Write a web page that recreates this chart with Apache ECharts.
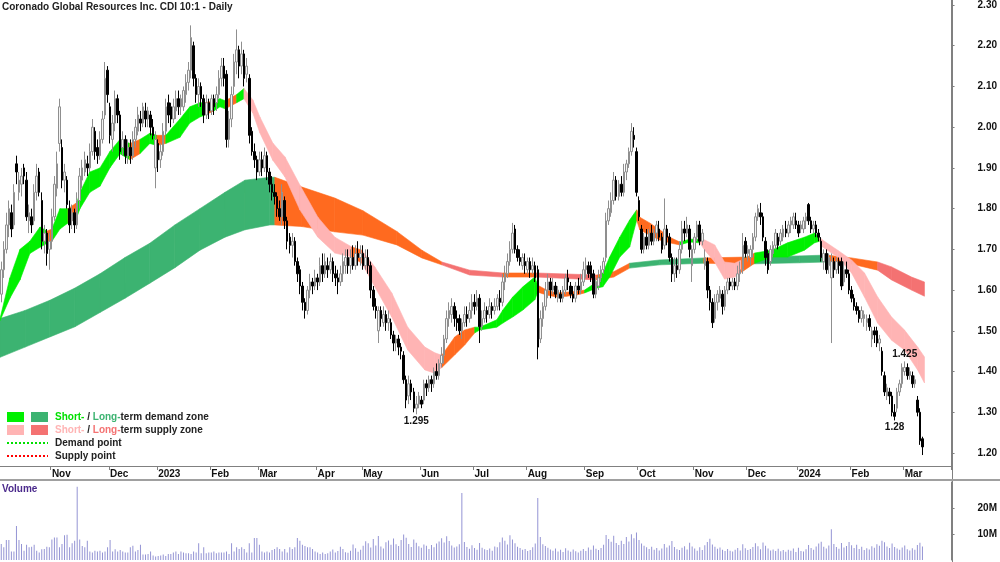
<!DOCTYPE html>
<html>
<head>
<meta charset="utf-8">
<script src="https://cdn.jsdelivr.net/npm/echarts@6/dist/echarts.min.js"></script>
<style>
  html, body { margin: 0; padding: 0; background: #fff; }
  #chart { width: 1000px; height: 562px; }
</style>
</head>
<body>
<div id="chart"></div>
<script>
// daily candles, [open, close, low, high]
const ohlc = [
  [1.59,1.65,1.57,1.67],[1.65,1.70,1.63,1.72],[1.70,1.76,1.69,1.79],[1.76,1.80,1.73,1.82],[1.79,1.75,1.73,1.81],
  [1.76,1.84,1.75,1.86],[1.91,1.89,1.86,1.93],[1.84,1.87,1.82,1.89],[1.86,1.88,1.83,1.90],[1.90,1.88,1.86,1.91],
  [1.87,1.78,1.77,1.89],[1.77,1.79,1.74,1.81],[1.78,1.76,1.74,1.80],[1.77,1.84,1.76,1.86],[1.84,1.88,1.82,1.91],
  [1.89,1.84,1.83,1.90],[1.82,1.72,1.70,1.84],[1.72,1.74,1.69,1.76],[1.74,1.69,1.66,1.75],[1.70,1.72,1.65,1.74],
  [1.72,1.78,1.70,1.80],[1.78,1.86,1.77,1.88],[1.85,1.91,1.83,1.94],[1.96,2.05,1.94,2.07],[1.95,1.87,1.85,1.97],
  [1.87,1.89,1.84,1.91],[1.87,1.81,1.80,1.88],[1.80,1.76,1.74,1.82],[1.77,1.79,1.75,1.81],[1.79,1.76,1.74,1.80],
  [1.76,1.82,1.75,1.84],[1.82,1.88,1.80,1.90],[1.87,1.90,1.85,1.92],[1.89,1.92,1.88,1.94],[1.91,1.90,1.88,1.93],
  [1.90,1.94,1.89,1.96],[1.94,2.00,1.93,2.02],[1.99,1.94,1.92,2.00],[1.95,1.93,1.91,1.97],[1.93,1.97,1.92,1.99],
  [1.97,2.02,1.96,2.04],[2.03,2.12,2.02,2.16],[2.14,2.08,2.06,2.15],[2.05,1.98,1.96,2.06],[1.97,2.01,1.94,2.03],
  [2.01,2.07,1.99,2.09],[2.07,2.03,2.01,2.08],[2.03,1.94,1.92,2.04],[1.95,1.97,1.93,1.99],[1.97,1.93,1.91,1.98],
  [1.93,1.95,1.91,1.97],[1.95,1.93,1.91,1.97],[1.93,1.97,1.92,1.99],[1.97,2.00,1.95,2.02],[1.99,2.03,1.98,2.05],
  [2.02,2.01,1.99,2.04],[2.01,2.05,2.00,2.06],[2.04,2.02,2.00,2.06],[2.02,2.04,2.00,2.05],[2.03,2.00,1.98,2.04],
  [2.00,1.98,1.97,2.02],[1.90,1.97,1.85,1.99],[1.96,1.92,1.89,1.97],[1.92,1.94,1.90,1.96],[1.94,1.99,1.93,2.01],
  [1.99,2.05,1.98,2.07],[2.06,2.03,2.01,2.08],[2.05,2.02,2.00,2.06],[2.02,2.05,2.01,2.07],[2.04,2.07,2.02,2.09],
  [2.07,2.05,2.03,2.09],[2.05,2.07,2.03,2.08],[2.05,2.09,2.04,2.10],[2.08,2.11,2.06,2.13],[2.11,2.14,2.09,2.16],
  [2.14,2.22,2.12,2.25],[2.20,2.12,2.10,2.21],[2.12,2.08,2.06,2.13],[2.08,2.10,2.05,2.12],[2.10,2.07,2.05,2.11],
  [2.07,2.03,2.01,2.08],[2.03,2.06,2.02,2.08],[2.06,2.04,2.02,2.07],[2.04,2.07,2.03,2.08],[2.07,2.05,2.03,2.08],
  [2.06,2.08,2.04,2.10],[2.08,2.12,2.07,2.14],[2.12,2.15,2.10,2.17],[2.15,2.12,2.10,2.17],[2.13,1.97,1.95,2.14],
  [1.97,2.02,1.95,2.04],[2.02,2.08,2.00,2.10],[2.10,2.16,2.08,2.18],[2.16,2.19,2.13,2.24],[2.19,2.15,2.12,2.20],
  [2.15,2.18,2.13,2.21],[2.18,2.12,2.10,2.19],[2.13,2.15,2.11,2.17],[2.12,1.98,1.96,2.13],[1.99,1.94,1.93,2.00],
  [1.94,1.92,1.90,1.96],[1.92,1.89,1.87,1.93],[1.89,1.92,1.88,1.94],[1.92,1.90,1.88,1.94],[1.90,1.93,1.89,1.95],
  [1.93,1.89,1.87,1.94],[1.89,1.86,1.84,1.90],[1.86,1.84,1.82,1.88],[1.84,1.83,1.81,1.86],[1.83,1.80,1.78,1.84],
  [1.80,1.78,1.77,1.82],[1.78,1.84,1.76,1.86],[1.82,1.77,1.75,1.83],[1.77,1.72,1.70,1.78],[1.73,1.71,1.69,1.74],
  [1.71,1.72,1.68,1.74],[1.72,1.67,1.66,1.73],[1.67,1.64,1.62,1.68],[1.65,1.61,1.59,1.66],[1.61,1.57,1.55,1.62],
  [1.57,1.55,1.53,1.58],[1.55,1.60,1.54,1.61],[1.60,1.62,1.58,1.64],[1.62,1.61,1.59,1.63],[1.61,1.63,1.60,1.65],
  [1.63,1.62,1.60,1.64],[1.62,1.66,1.61,1.68],[1.66,1.64,1.62,1.69],[1.64,1.67,1.63,1.69],[1.66,1.65,1.63,1.68],
  [1.65,1.67,1.64,1.69],[1.67,1.64,1.62,1.68],[1.64,1.63,1.61,1.66],[1.63,1.62,1.59,1.65],[1.62,1.64,1.61,1.66],
  [1.64,1.67,1.62,1.69],[1.66,1.68,1.64,1.70],[1.68,1.66,1.64,1.70],[1.66,1.68,1.64,1.70],[1.68,1.66,1.65,1.71],
  [1.66,1.69,1.65,1.71],[1.69,1.68,1.66,1.72],[1.68,1.69,1.66,1.71],[1.69,1.66,1.65,1.71],[1.66,1.68,1.65,1.70],
  [1.68,1.66,1.64,1.70],[1.66,1.60,1.58,1.67],[1.60,1.56,1.55,1.61],[1.56,1.55,1.53,1.58],[1.50,1.55,1.47,1.56],
  [1.55,1.53,1.51,1.56],[1.52,1.54,1.51,1.56],[1.54,1.52,1.50,1.55],[1.52,1.53,1.50,1.55],[1.52,1.49,1.48,1.53],
  [1.49,1.47,1.45,1.50],[1.47,1.48,1.45,1.49],[1.48,1.46,1.44,1.49],[1.46,1.45,1.43,1.47],[1.44,1.38,1.37,1.45],
  [1.38,1.33,1.31,1.39],[1.34,1.37,1.32,1.39],[1.37,1.35,1.33,1.38],[1.35,1.31,1.30,1.36],[1.31,1.32,1.295,1.34],
  [1.32,1.34,1.31,1.35],[1.33,1.32,1.31,1.34],[1.33,1.37,1.32,1.38],[1.37,1.36,1.34,1.38],[1.36,1.38,1.35,1.39],
  [1.38,1.37,1.35,1.39],[1.37,1.40,1.36,1.41],[1.40,1.39,1.38,1.42],[1.39,1.42,1.38,1.43],[1.42,1.44,1.41,1.46],
  [1.44,1.48,1.42,1.49],[1.48,1.53,1.47,1.55],[1.53,1.55,1.51,1.57],[1.54,1.56,1.52,1.58],[1.56,1.53,1.51,1.57],
  [1.53,1.52,1.50,1.55],[1.53,1.50,1.49,1.54],[1.50,1.52,1.48,1.53],[1.52,1.54,1.51,1.56],[1.54,1.53,1.51,1.56],
  [1.53,1.55,1.52,1.57],[1.55,1.57,1.53,1.59],[1.57,1.56,1.54,1.59],[1.56,1.58,1.55,1.60],[1.58,1.51,1.47,1.59],
  [1.51,1.53,1.50,1.55],[1.53,1.55,1.52,1.57],[1.55,1.54,1.52,1.56],[1.54,1.56,1.53,1.58],[1.56,1.55,1.53,1.57],
  [1.55,1.56,1.54,1.58],[1.56,1.58,1.55,1.59],[1.58,1.57,1.55,1.60],[1.57,1.62,1.56,1.64],[1.62,1.64,1.60,1.66],
  [1.64,1.67,1.63,1.69],[1.67,1.70,1.66,1.72],[1.70,1.74,1.69,1.765],[1.75,1.70,1.69,1.76],[1.70,1.68,1.67,1.71],
  [1.68,1.67,1.66,1.70],[1.66,1.68,1.65,1.69],[1.67,1.66,1.64,1.69],[1.65,1.67,1.64,1.68],[1.67,1.65,1.63,1.68],
  [1.65,1.66,1.64,1.68],[1.66,1.63,1.62,1.67],[1.65,1.46,1.43,1.66],[1.48,1.53,1.47,1.55],[1.53,1.56,1.51,1.57],
  [1.56,1.60,1.55,1.62],[1.60,1.62,1.58,1.64],[1.62,1.60,1.58,1.63],[1.60,1.61,1.59,1.63],[1.61,1.59,1.58,1.62],
  [1.58,1.60,1.57,1.61],[1.59,1.58,1.57,1.60],[1.58,1.60,1.57,1.61],[1.60,1.63,1.59,1.64],[1.63,1.62,1.60,1.65],
  [1.61,1.59,1.58,1.62],[1.59,1.58,1.57,1.61],[1.58,1.61,1.57,1.62],[1.61,1.60,1.59,1.63],[1.60,1.62,1.59,1.64],
  [1.62,1.65,1.61,1.67],[1.65,1.66,1.63,1.68],[1.66,1.64,1.63,1.67],[1.66,1.63,1.62,1.67],[1.64,1.59,1.58,1.65],
  [1.59,1.62,1.58,1.63],[1.61,1.63,1.60,1.65],[1.63,1.65,1.62,1.66],[1.65,1.67,1.64,1.68],[1.68,1.77,1.67,1.79],
  [1.77,1.80,1.76,1.82],[1.79,1.82,1.78,1.84],[1.82,1.87,1.81,1.89],[1.87,1.83,1.82,1.88],[1.83,1.86,1.82,1.87],
  [1.86,1.84,1.83,1.88],[1.84,1.89,1.83,1.91],[1.89,1.91,1.87,1.92],[1.91,1.94,1.90,1.95],[1.94,1.99,1.93,2.01],
  [1.98,1.97,1.95,2.00],[1.94,1.84,1.83,1.95],[1.82,1.78,1.77,1.83],[1.75,1.70,1.69,1.76],[1.70,1.73,1.69,1.74],
  [1.73,1.71,1.70,1.75],[1.71,1.74,1.70,1.75],[1.74,1.72,1.71,1.76],[1.72,1.74,1.71,1.75],[1.74,1.76,1.72,1.77],
  [1.75,1.73,1.72,1.77],[1.73,1.70,1.69,1.74],[1.71,1.75,1.70,1.825],[1.75,1.73,1.71,1.76],[1.73,1.68,1.67,1.74],
  [1.68,1.64,1.62,1.69],[1.64,1.66,1.62,1.68],[1.66,1.65,1.63,1.68],[1.65,1.70,1.64,1.72],[1.70,1.75,1.69,1.77],
  [1.75,1.74,1.72,1.77],[1.74,1.76,1.73,1.78],[1.75,1.70,1.68,1.76],[1.66,1.70,1.62,1.71],[1.70,1.73,1.69,1.74],
  [1.73,1.76,1.72,1.77],[1.76,1.72,1.71,1.77],[1.72,1.74,1.71,1.75],[1.66,1.68,1.65,1.70],[1.67,1.60,1.58,1.68],
  [1.60,1.57,1.55,1.61],[1.57,1.52,1.507,1.58],[1.53,1.57,1.52,1.59],[1.57,1.59,1.55,1.60],[1.58,1.60,1.57,1.61],
  [1.59,1.56,1.54,1.60],[1.56,1.60,1.55,1.61],[1.60,1.62,1.59,1.63],[1.62,1.61,1.60,1.63],[1.61,1.62,1.60,1.63],
  [1.62,1.61,1.60,1.63],[1.61,1.64,1.60,1.66],[1.64,1.65,1.62,1.67],[1.65,1.71,1.64,1.74],[1.72,1.69,1.68,1.73],
  [1.69,1.70,1.67,1.71],[1.68,1.70,1.66,1.71],[1.70,1.73,1.68,1.74],[1.73,1.78,1.72,1.79],[1.78,1.80,1.77,1.81],
  [1.79,1.78,1.76,1.814],[1.78,1.73,1.72,1.79],[1.72,1.68,1.66,1.73],[1.69,1.65,1.64,1.70],[1.67,1.70,1.66,1.71],
  [1.69,1.71,1.68,1.72],[1.71,1.74,1.70,1.75],[1.73,1.71,1.70,1.74],[1.72,1.74,1.71,1.75],[1.73,1.75,1.72,1.76],
  [1.75,1.74,1.73,1.77],[1.74,1.76,1.73,1.77],[1.76,1.77,1.74,1.78],[1.76,1.78,1.75,1.79],[1.77,1.76,1.75,1.79],
  [1.76,1.74,1.73,1.77],[1.75,1.76,1.74,1.77],[1.75,1.77,1.74,1.78],[1.77,1.78,1.75,1.79],[1.81,1.77,1.76,1.814],
  [1.77,1.75,1.74,1.78],[1.75,1.76,1.74,1.77],[1.76,1.74,1.73,1.77],[1.74,1.73,1.72,1.75],[1.72,1.68,1.67,1.73],
  [1.67,1.69,1.65,1.70],[1.69,1.65,1.64,1.70],[1.66,1.68,1.64,1.69],[1.63,1.67,1.47,1.69],[1.67,1.65,1.63,1.68],
  [1.65,1.67,1.64,1.68],[1.67,1.66,1.64,1.68],[1.67,1.61,1.60,1.68],[1.62,1.65,1.61,1.67],[1.65,1.64,1.63,1.67],
  [1.64,1.60,1.59,1.65],[1.60,1.58,1.57,1.61],[1.58,1.56,1.55,1.59],[1.56,1.55,1.54,1.57],[1.55,1.53,1.52,1.56],
  [1.53,1.55,1.52,1.56],[1.53,1.54,1.51,1.55],[1.52,1.53,1.50,1.54],[1.53,1.51,1.50,1.54],[1.48,1.50,1.46,1.51],
  [1.50,1.49,1.47,1.51],[1.50,1.47,1.46,1.51],[1.47,1.48,1.45,1.49],[1.45,1.40,1.39,1.46],[1.39,1.35,1.34,1.40],
  [1.34,1.36,1.33,1.37],[1.35,1.34,1.32,1.36],[1.34,1.30,1.29,1.35],[1.30,1.29,1.28,1.32],[1.31,1.35,1.30,1.36],
  [1.35,1.37,1.34,1.38],[1.37,1.41,1.36,1.42],[1.40,1.41,1.39,1.425],[1.41,1.39,1.38,1.42],[1.39,1.40,1.38,1.41],
  [1.39,1.37,1.36,1.40],[1.37,1.38,1.36,1.39],[1.33,1.30,1.29,1.34],[1.30,1.23,1.22,1.31],[1.235,1.215,1.195,1.24]
];

// daily volume, millions
const volumeM = [
  6.2,4.9,7.7,7.7,3.3,3.3,13.1,7.7,6.2,3.6, 5.9,4.9,5.1,5.9,3.6,2.9,4.1,4.2,5.1,4.9,
  7.9,8.7,8.7,4.9,6.2,9.5,9.7,4.9,6.4,7.4, 28.2,7.9,5.4,4.9,7.4,3.3,2.9,3.6,3.3,3.6,
  2.9,3.3,4.9,7.7,3.3,4.1,3.3,3.8,3.3,2.9, 2.9,4.9,5.5,3.3,3.8,5.9,2.1,2.1,2.3,3.3,
  1.7,1.3,1.5,1.7,2.1,1.5,2.3,2.3,2.9,3.3, 2.3,3.3,2.9,2.6,2.6,2.3,3.3,2.9,6.4,2.6,
  4.9,2.6,2.9,2.9,3.3,2.6,2.9,2.9,2.9,3.3, 2.3,6.4,3.3,4.9,4.2,4.9,4.2,2.9,6.4,2.9,
  8.5,8.5,5.9,3.3,2.9,3.3,2.9,3.8,4.2,4.9, 4.2,3.3,4.2,2.9,4.9,4.2,4.9,8.5,7.4,5.9,
  5.4,4.9,4.9,4.2,3.3,2.9,2.3,2.9,2.3,2.6,
  3.3,4.0,2.9,3.5,5.1,4.2,3.0,2.8,3.6,6.0, 4.5,3.2,3.9,5.5,7.2,6.4,4.8,8.1,5.6,9.2,
  5.2,4.4,6.8,7.5,5.9,8.3,6.1,5.4,7.7,9.8, 8.6,6.2,5.0,7.9,6.6,5.3,4.7,6.0,5.5,4.2,
  5.8,4.9,6.3,7.1,8.4,6.7,9.1,7.3,5.6,4.8, 5.2,6.1,25.8,6.9,5.0,4.3,5.7,4.6,3.9,6.5,
  4.7,4.1,3.8,4.4,3.6,5.2,4.9,6.8,8.7,7.4, 6.0,9.5,7.9,6.4,5.1,4.6,3.9,4.2,3.5,3.8,
  4.9,6.3,23.8,8.8,6.1,5.4,4.7,4.0,3.6,4.4, 3.3,3.9,3.1,4.5,3.7,3.2,4.0,3.4,2.9,3.6,
  4.2,3.5,4.8,3.9,5.6,4.3,3.8,4.6,5.9,9.6, 8.1,7.0,9.3,6.5,5.8,7.4,6.2,8.8,7.1,9.9,
  8.4,10.6,7.7,6.3,5.5,4.9,4.2,5.1,3.9,4.6, 3.7,4.4,6.2,4.8,5.6,7.3,5.0,4.1,3.8,4.7,
  5.3,4.0,6.6,5.2,4.4,3.6,4.9,3.8,5.7,6.9, 8.2,6.0,5.1,4.3,4.8,3.9,3.5,4.2,3.6,3.3,
  3.9,4.6,3.7,6.1,4.5,3.8,4.2,5.0,6.4,5.3, 4.1,6.7,5.5,4.4,3.7,4.0,3.5,4.3,3.4,3.8,
  3.2,3.9,3.6,4.4,3.1,4.7,3.5,3.3,4.1,5.8, 4.6,3.9,5.2,6.3,7.0,5.1,4.4,5.6,11.8,6.2,
  5.0,4.3,6.5,4.8,5.4,6.9,5.7,4.6,5.9,4.2, 5.1,3.8,4.5,4.0,5.3,4.7,6.1,5.5,7.4,6.8,
  5.2,4.6,6.3,5.0,4.4,3.9,4.8,5.6,4.1,3.7, 4.5,3.9,5.8,6.6,5.2
];

// zone bands: [day, lower, upper, colour of the stretch that follows]
const shortBand = [
  [-0.5,1.525,1.53,'G'],[3.4,1.58,1.63,'G'],[7.4,1.625,1.70,'G'],[11.3,1.69,1.72,'G'],[15.3,1.705,1.755,'G'],
  [18.1,1.715,1.745,'O'],[20.0,1.72,1.75,'G'],[23.2,1.75,1.80,'G'],[26.4,1.765,1.80,'O'],[29.9,1.78,1.815,'G'],
  [31.1,1.80,1.84,'G'],[35.0,1.84,1.89,'G'],[39.0,1.855,1.90,'G'],[42.9,1.90,1.94,'G'],[46.9,1.935,1.97,'G'],
  [50.8,1.92,1.96,'O'],[54.8,1.935,1.97,'G'],[58.7,1.96,1.985,'G'],[61.5,1.955,1.98,'O'],[65.0,1.96,1.98,'G'],
  [70.6,1.975,2.02,'G'],[74.5,2.01,2.05,'G'],[78.5,2.025,2.06,'G'],[80.5,2.03,2.06,'O'],[84.0,2.04,2.065,'G'],
  [86.4,2.05,2.07,'G'],[88.5,2.045,2.065,'O'],[93.0,2.06,2.08,'G'],[95.9,2.07,2.095,'P'],[99.4,2.035,2.067,'P'],
  [102.2,1.986,2.025,'P'],[107.3,1.919,1.961,'P'],[112.1,1.878,1.927,'P'],[118.0,1.797,1.858,'P'],[125.1,1.730,1.779,'P'],
  [131.8,1.691,1.730,'P'],[138.5,1.681,1.706,'O'],[142.5,1.666,1.698,'P'],[147.6,1.608,1.657,'P'],[154.3,1.534,1.593,'P'],
  [160.6,1.453,1.509,'P'],[167.4,1.404,1.460,'P'],[171.3,1.396,1.446,'P'],[174.1,1.41,1.44,'O'],[179.2,1.441,1.485,'O'],
  [183.1,1.465,1.502,'O'],[187.1,1.495,1.509,'G'],[189.1,1.502,1.509,'G'],[195.8,1.509,1.527,'G'],[198.2,1.519,1.551,'G'],
  [202.1,1.534,1.583,'G'],[206.1,1.551,1.608,'G'],[210.8,1.576,1.632,'G'],[212.0,1.595,1.612,'O'],[215.5,1.588,1.600,'O'],
  [219.5,1.583,1.593,'O'],[223.4,1.585,1.595,'O'],[227.4,1.588,1.597,'O'],[230.5,1.593,1.600,'G'],[235.3,1.605,1.62,'G'],
  [237.7,1.608,1.642,'G'],[240.4,1.632,1.681,'G'],[244.4,1.681,1.730,'G'],[248.3,1.706,1.772,'G'],[251.1,1.772,1.797,'O'],
  [252.3,1.748,1.779,'O'],[256.2,1.735,1.765,'O'],[260.2,1.723,1.748,'O'],[264.1,1.716,1.730,'O'],[268.1,1.711,1.718,'G'],
  [272.0,1.718,1.725,'G'],[276.0,1.716,1.725,'P'],[278.0,1.698,1.723,'P'],[281.9,1.669,1.711,'P'],[285.8,1.627,1.669,'P'],
  [289.8,1.632,1.666,'P'],[292.5,1.644,1.674,'O'],[297.7,1.666,1.691,'G'],[304.4,1.681,1.698,'G'],[310.7,1.681,1.716,'G'],
  [317.4,1.698,1.730,'G'],[321.4,1.716,1.740,'G'],[323.4,1.72,1.73,'P'],[324.5,1.706,1.723,'P'],[330.5,1.681,1.698,'P'],
  [336.0,1.642,1.674,'P'],[341.1,1.583,1.642,'P'],[346.3,1.519,1.583,'P'],[351.8,1.477,1.534,'P'],[356.9,1.453,1.502,'P'],
  [362.1,1.404,1.460,'P'],[364.8,1.372,1.436,'P']
];
const longBand = [
  [-0.5,1.435,1.53,'D'],[9.4,1.46,1.55,'D'],[19.2,1.485,1.575,'D'],[29.1,1.51,1.605,'D'],[39.0,1.545,1.64,'D'],
  [48.9,1.58,1.68,'D'],[58.7,1.617,1.715,'D'],[68.6,1.655,1.76,'D'],[78.5,1.698,1.80,'D'],[88.4,1.73,1.84,'D'],
  [96.3,1.748,1.87,'D'],[106.1,1.76,1.877,'D'],[108.1,1.76,1.877,'O'],[118.8,1.756,1.853,'O'],[131.8,1.743,1.826,'O'],
  [142.9,1.735,1.795,'O'],[156.3,1.711,1.744,'O'],[166.2,1.679,1.698,'O'],[174.1,1.662,1.669,'S'],[185.1,1.637,1.649,'S'],
  [198.2,1.632,1.642,'O'],[211.6,1.632,1.642,'S'],[235.3,1.625,1.637,'O'],[242.0,1.632,1.645,'O'],[248.3,1.654,1.666,'D'],
  [260.2,1.662,1.674,'D'],[277.6,1.666,1.679,'O'],[293.8,1.664,1.681,'D'],[315.5,1.667,1.684,'D'],[326.1,1.669,1.686,'O'],
  [336.0,1.664,1.679,'O'],[346.3,1.649,1.669,'S'],[351.8,1.625,1.657,'S'],[359.7,1.600,1.632,'S'],[364.8,1.585,1.620,'S']
];
const zoneColors = { G: '#00f000', D: '#3cb371', O: '#ff6a1f', P: '#ffb4b4', S: '#f47272' };

const priceTicks = [1.2, 1.3, 1.4, 1.5, 1.6, 1.7, 1.8, 1.9, 2.0, 2.1, 2.2, 2.3];
const volumeTicks = [10e6, 20e6];
const monthTickDays = [20, 43, 62, 83, 102, 125, 143, 166, 187, 208, 231, 252, 274, 295, 315, 336, 357];
const monthTickText = ['Nov', 'Dec', '2023', 'Feb', 'Mar', 'Apr', 'May', 'Jun', 'Jul', 'Aug', 'Sep', 'Oct', 'Nov', 'Dec', '2024', 'Feb', 'Mar'];
// [day, price, label side]
const annotations = [[164, 1.295, 'bottom'], [357, 1.425, 'top'], [353, 1.28, 'bottom']];

const slotCount = 376;
const days = Array.from({ length: slotCount }, (_, i) => i);
const monthLabel = {};
monthTickDays.forEach((d, k) => { monthLabel[d] = monthTickText[k]; });

const FONT = 'Liberation Sans, Arial, sans-serif';

function bandSeries(pts) {
  return {
    type: 'custom',
    xAxisIndex: 1,
    yAxisIndex: 0,
    z: 1,
    silent: true,
    data: pts.slice(0, -1).map((p, k) => [p[0], p[1], p[2], k]),
    encode: { x: 0, y: [1, 2] },
    renderItem(params, api) {
      const k = api.value(3);
      const a = pts[k], b = pts[k + 1];
      const c = zoneColors[a[3]];
      return {
        type: 'polygon',
        shape: { points: [api.coord([a[0], a[1]]), api.coord([b[0], b[1]]), api.coord([b[0], b[2]]), api.coord([a[0], a[2]])] },
        style: { fill: c, stroke: c, lineWidth: 0.6 }
      };
    }
  };
}

const chart = echarts.init(document.getElementById('chart'));

chart.setOption({
  animation: false,
  backgroundColor: '#fff',
  textStyle: { fontFamily: FONT },
  grid: [
    { left: 0, right: 48, top: 0, height: 466 },
    { left: 0, right: 48, top: 482, bottom: 2 }
  ],
  xAxis: [
    {
      type: 'category', gridIndex: 0, data: days, boundaryGap: true,
      axisLine: { show: true, onZero: false, lineStyle: { color: '#808080', width: 1 } },
      axisTick: { show: true, interval: (i) => monthLabel[i] !== undefined, length: 4, lineStyle: { color: '#808080' } },
      axisLabel: {
        interval: (i) => monthLabel[i] !== undefined,
        formatter: (v, i) => monthLabel[i] || '',
        align: 'left', margin: 3, color: '#111', fontSize: 10, fontWeight: 'bold', fontFamily: FONT
      },
      splitLine: { show: false }
    },
    { type: 'value', gridIndex: 0, min: -0.5, max: slotCount - 0.5, show: false },
    {
      type: 'category', gridIndex: 1, data: days, boundaryGap: true,
      axisLine: { show: false, onZero: false }, axisTick: { show: false }, axisLabel: { show: false }
    }
  ],
  yAxis: [
    {
      type: 'value', gridIndex: 0, position: 'right', min: 1.1681, max: 2.3123, scale: true,
      axisLine: { show: true, onZero: false, lineStyle: { color: '#808080' } },
      axisTick: { show: true, customValues: priceTicks, length: 3, lineStyle: { color: '#808080' } },
      axisLabel: {
        customValues: priceTicks, formatter: (v) => v.toFixed(2),
        margin: 26, color: '#111', fontSize: 10, fontWeight: 'bold', fontFamily: FONT
      },
      splitLine: { show: false }
    },
    {
      type: 'value', gridIndex: 1, position: 'right', min: 0, max: 30e6,
      axisLine: { show: true, onZero: false, lineStyle: { color: '#808080' } },
      axisTick: { show: true, customValues: volumeTicks, length: 3, lineStyle: { color: '#808080' } },
      axisLabel: {
        customValues: volumeTicks, formatter: (v) => (v / 1e6) + 'M',
        margin: 26, color: '#111', fontSize: 10, fontWeight: 'bold', fontFamily: FONT
      },
      splitLine: { show: false }
    }
  ],
  series: [
    bandSeries(longBand),
    bandSeries(shortBand),
    {
      type: 'candlestick',
      xAxisIndex: 0, yAxisIndex: 0, z: 3,
      data: ohlc,
      barWidth: 2,
      itemStyle: { color: '#f4f4f4', color0: '#000000', borderColor: '#8f8f8f', borderColor0: '#000000', borderWidth: 1 },
      markPoint: {
        symbol: 'circle', symbolSize: 0,
        label: { show: true, color: '#111', fontSize: 10, fontWeight: 'bold', fontFamily: FONT, distance: 2 },
        data: annotations.map((a) => ({
          coord: [a[0], a[1]], value: String(a[1]),
          label: { position: a[2], formatter: String(a[1]) }
        }))
      }
    },
    {
      type: 'bar',
      xAxisIndex: 2, yAxisIndex: 1,
      data: volumeM.map((v) => v * 1e6),
      barWidth: 1,
      itemStyle: { color: '#9494d4' }
    }
  ],
  graphic: [
    { type: 'text', left: 2, top: 2, style: { text: 'Coronado Global Resources Inc. CDI 10:1 - Daily', fill: '#222', font: 'bold 10px ' + FONT } },
    { type: 'line', shape: { x1: 952.5, y1: 0, x2: 952.5, y2: 562 }, style: { stroke: '#808080', lineWidth: 1 } },
    { type: 'line', shape: { x1: 0, y1: 480, x2: 1000, y2: 480 }, style: { stroke: '#a0a0a0', lineWidth: 2 } },
    { type: 'text', left: 2, top: 484, style: { text: 'Volume', fill: '#4b2a8c', font: 'bold 10px ' + FONT } },
    // legend
    { type: 'rect', shape: { x: 7, y: 412, width: 17, height: 10 }, style: { fill: zoneColors.G } },
    { type: 'rect', shape: { x: 31, y: 412, width: 17, height: 10 }, style: { fill: zoneColors.D } },
    { type: 'rect', shape: { x: 7, y: 425, width: 17, height: 10 }, style: { fill: zoneColors.P } },
    { type: 'rect', shape: { x: 31, y: 425, width: 17, height: 10 }, style: { fill: zoneColors.S } },
    { type: 'line', shape: { x1: 7, y1: 443, x2: 48, y2: 443 }, style: { stroke: '#00e000', lineWidth: 2, lineDash: [2, 2] } },
    { type: 'line', shape: { x1: 7, y1: 456, x2: 48, y2: 456 }, style: { stroke: '#ff0000', lineWidth: 2, lineDash: [2, 2] } },
    {
      type: 'text', x: 55, y: 417,
      style: {
        text: '{a|Short-} / {b|Long-}term demand zone', fill: '#222', font: 'bold 10px ' + FONT, verticalAlign: 'middle',
        rich: { a: { fill: '#00e000', font: 'bold 10px ' + FONT }, b: { fill: '#3cb371', font: 'bold 10px ' + FONT } }
      }
    },
    {
      type: 'text', x: 55, y: 430,
      style: {
        text: '{a|Short-} / {b|Long-}term supply zone', fill: '#222', font: 'bold 10px ' + FONT, verticalAlign: 'middle',
        rich: { a: { fill: '#ffb4b4', font: 'bold 10px ' + FONT }, b: { fill: '#f47272', font: 'bold 10px ' + FONT } }
      }
    },
    { type: 'text', x: 55, y: 443, style: { text: 'Demand point', fill: '#222', font: 'bold 10px ' + FONT, verticalAlign: 'middle' } },
    { type: 'text', x: 55, y: 456, style: { text: 'Supply point', fill: '#222', font: 'bold 10px ' + FONT, verticalAlign: 'middle' } }
  ]
});
</script>
</body>
</html>
